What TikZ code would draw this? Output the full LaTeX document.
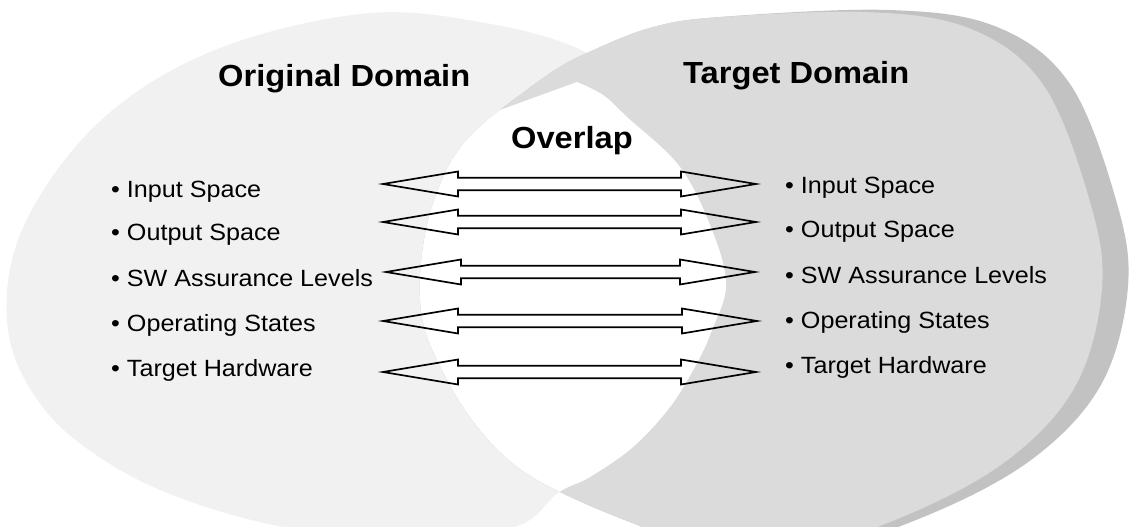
\documentclass[tikz,border=0pt]{standalone}
\usepackage{fontspec}
\setmainfont{Liberation Sans}[FakeStretch=1.07]
\usetikzlibrary{calc}
\newcommand{\dblarr}[2]{%
  \draw[blockarr] (#1) -- ($(#1)+(75,-12.5)$) -- ($(#1)+(75,-6.3)$) -- ($(#2)+(-75,-6.3)$)
    -- ($(#2)+(-75,-12.5)$) -- (#2) -- ($(#2)+(-75,12.5)$) -- ($(#2)+(-75,6.3)$)
    -- ($(#1)+(75,6.3)$) -- ($(#1)+(75,12.5)$) -- cycle;}
\begin{document}
\begin{tikzpicture}[x=1pt,y=-1pt,
  lfill/.style={fill=gray!11},
  rfill/.style={fill=gray!28},
  rimfill/.style={fill=gray!48},
  titletext/.style={anchor=base west, inner sep=0pt, font=\fontsize{30.5}{36}\selectfont\bfseries},
  itemtext/.style={anchor=base west, inner sep=0pt, font=\fontsize{23.5}{28}\selectfont},
  blockarr/.style={draw=black, line width=1.7pt, line join=miter}
]
\useasboundingbox (0,0) rectangle (1130,527);
\fill[white] (0,0) rectangle (1130,527);
\clip (0,0) rectangle (1130,527);

\def\Lpath{plot[smooth cycle, tension=0.6] coordinates {
  (8,330) (22,230) (97,124) (210,52) (360,14) (480,22) (587,53) (640,110)
  (700,190) (726,280) (705,350) (660,415) (600,470) (558,493) (520,525)
  (430,545) (300,530) (200,505) (115,467) (45,410)}}
\def\Rpath{plot[smooth cycle, tension=0.6] coordinates {
  (587,53) (650,28) (720,17) (889,10) (997,27) (1070,84) (1116,200) (1128,286)
  (1102,383) (1035,457) (933,513) (820,548) (700,545) (630,522) (560,492)
  (515,465) (480,430) (450,385) (425,330) (420,280) (427,225) (442,180)
  (460,148) (485,122) (520,95) (555,70)}}

% original domain
\fill[lfill] \Lpath;
% target domain with darker rim
\fill[rimfill] \Rpath;
\begin{scope}
  \clip \Rpath;
  \fill[rfill, xshift=-26pt, yshift=-2pt] \Rpath;
\end{scope}
% overlap (white lens)
\begin{scope}
  \clip \Rpath;
  \fill[white] plot[smooth, tension=0.6] coordinates {
    (577,82) (603,95) (627,117) (680,167) (712,230) (726,285) (712,330)
    (697,363) (670,407) (633,447) (590,477) (558,493) (525,525) (490,570)}
    -- (0,570) -- (0,110) -- (500,110) -- cycle;
\end{scope}

% titles
\node[titletext] (torig) at (218,86) {Original Domain};
\node[titletext] (ttarg) at (683,84) {Target Domain};
\node[titletext] (tover) at (511,148) {Overlap};

% left list
\node[itemtext] (l1) at (111,197) {• Input Space};
\node[itemtext] (l2) at (111,240) {• Output Space};
\node[itemtext] (l3) at (111,286) {• SW Assurance Levels};
\node[itemtext] (l4) at (111,331) {• Operating States};
\node[itemtext] (l5) at (111,376) {• Target Hardware};

% right list
\node[itemtext] (r1) at (785,193) {• Input Space};
\node[itemtext] (r2) at (785,237) {• Output Space};
\node[itemtext] (r3) at (785,283) {• SW Assurance Levels};
\node[itemtext] (r4) at (785,328) {• Operating States};
\node[itemtext] (r5) at (785,373) {• Target Hardware};

% arrow ends
\coordinate (aL1) at (383,184); \coordinate (aR1) at (756,184);
\coordinate (aL2) at (383,222); \coordinate (aR2) at (756,222);
\coordinate (aL3) at (386,272); \coordinate (aR3) at (755,272);
\coordinate (aL4) at (383,321); \coordinate (aR4) at (757,321);
\coordinate (aL5) at (383,372); \coordinate (aR5) at (756,372);

\dblarr{aL1}{aR1}
\dblarr{aL2}{aR2}
\dblarr{aL3}{aR3}
\dblarr{aL4}{aR4}
\dblarr{aL5}{aR5}
\end{tikzpicture}
\end{document}
